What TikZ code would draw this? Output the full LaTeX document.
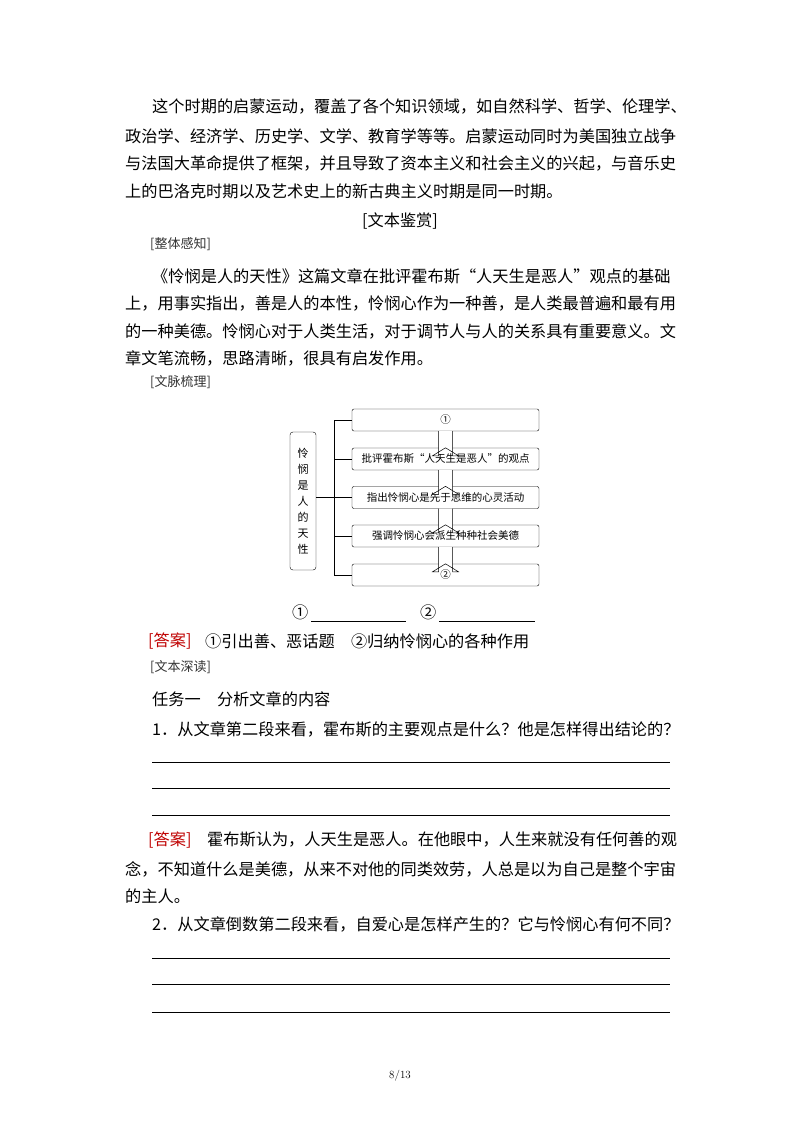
\documentclass[tikz,border=0pt]{standalone}
\usepackage{fontspec}
\newfontfamily\cjk{Noto Sans CJK SC}
\begin{document}
\begin{tikzpicture}[x=1pt,y=-1pt,
 t/.style={anchor=west,inner sep=0pt,font=\cjk\fontsize{16.2}{18}\selectfont},
 tag/.style={anchor=west,inner sep=0pt,font=\cjk\fontsize{13}{15}\selectfont,text=black!80},
 bx/.style={draw,rounded corners=2pt,minimum width=187pt,minimum height=22pt,inner sep=0pt,font=\cjk\fontsize{10.5}{12}\selectfont},
 ln/.style={line width=0.6pt},
 ha/.style={draw,fill=white,line width=0.5pt}]
\useasboundingbox (0,0) rectangle (800,1132);
\fill[white] (0,0) rectangle (800,1132);
\node[t] (p1) at (152,106) {这个时期的启蒙运动，覆盖了各个知识领域，如自然科学、哲学、伦理学、};
\node[t] (p2) at (125,136) {政治学、经济学、历史学、文学、教育学等等。启蒙运动同时为美国独立战争};
\node[t] (p3) at (125,163) {与法国大革命提供了框架，并且导致了资本主义和社会主义的兴起，与音乐史};
\node[t] (p4) at (125,191) {上的巴洛克时期以及艺术史上的新古典主义时期是同一时期。};
\node[t,anchor=center] (h1) at (400,221) {[文本鉴赏]};
\node[tag] (g1) at (150,244) {[整体感知]};
\node[t] (q1) at (152,276) {《怜悯是人的天性》这篇文章在批评霍布斯“人天生是恶人”观点的基础};
\node[t] (q2) at (125,304) {上，用事实指出，善是人的本性，怜悯心作为一种善，是人类最普遍和最有用};
\node[t] (q3) at (125,331) {的一种美德。怜悯心对于人类生活，对于调节人与人的关系具有重要意义。文};
\node[t] (q4) at (125,358) {章文笔流畅，思路清晰，很具有启发作用。};
\node[tag] (g2) at (150,382) {[文脉梳理]};
% diagram
\node[draw,rounded corners=3pt,minimum width=26pt,minimum height=138pt,inner sep=0pt,align=center,font=\cjk\fontsize{11}{16}\selectfont] (L) at (303,501) {怜\\悯\\是\\人\\的\\天\\性};
\node[bx] (b1) at (445.5,420) {①};
\node[bx] (b2) at (445.5,459) {批评霍布斯“人天生是恶人”的观点};
\node[bx] (b3) at (445.5,497.5) {指出怜悯心是先于思维的心灵活动};
\node[bx] (b4) at (445.5,536) {强调怜悯心会派生种种社会美德};
\node[bx] (b5) at (445.5,575) {②};
\coordinate (vt) at (334,420);
\coordinate (vb) at (334,575);
\coordinate (vm) at (334,497.5);
\draw[ln] (vt) -- (vb);
\draw[ln] (L.east |- vm) -- (vm);
\foreach \b in {b1,b2,b3,b4,b5} \draw[ln] (vt |- \b.west) -- (\b.west);
\foreach \a/\c in {b1/b2,b2/b3,b3/b4,b4/b5}
 \path[ha] ([xshift=-7pt]\a.south) -- ([xshift=-7pt,yshift=-8pt]\c.north) -- ([xshift=-13pt,yshift=-8pt]\c.north) -- (\c.north) -- ([xshift=13pt,yshift=-8pt]\c.north) -- ([xshift=7pt,yshift=-8pt]\c.north) -- ([xshift=7pt]\a.south);
\node[t] (k1) at (292,612) {①};
\coordinate (k1a) at (311,621); \coordinate (k1b) at (406,621);
\draw[ln] (k1a) -- (k1b);
\node[t] (k2) at (420,612) {②};
\coordinate (k2a) at (439,621); \coordinate (k2b) at (535,621);
\draw[ln] (k2a) -- (k2b);
\node[t,text=red!75!black] (a1) at (148,641) {[答案]};
\node[t] (a1t) at (205,641) {①引出善、恶话题　②归纳怜悯心的各种作用};
\node[tag] (g3) at (150,667) {[文本深读]};
\node[t] (r1) at (152,699) {任务一　分析文章的内容};
\node[t] (r2) at (152,729) {1．从文章第二段来看，霍布斯的主要观点是什么？他是怎样得出结论的？};
\foreach \y [count=\i] in {762,788,815} {\coordinate (s\i a) at (152,\y); \coordinate (s\i b) at (670,\y); \draw[ln] (s\i a) -- (s\i b);}
\node[t,text=red!75!black] (a2) at (148,840) {[答案]};
\node[t] (a2t) at (207,840) {霍布斯认为，人天生是恶人。在他眼中，人生来就没有任何善的观};
\node[t] (a3t) at (125,869) {念，不知道什么是美德，从来不对他的同类效劳，人总是以为自己是整个宇宙};
\node[t] (a4t) at (125,896) {的主人。};
\node[t] (r3) at (152,924) {2．从文章倒数第二段来看，自爱心是怎样产生的？它与怜悯心有何不同？};
\foreach \y [count=\i] in {958,984,1012} {\coordinate (u\i a) at (152,\y); \coordinate (u\i b) at (670,\y); \draw[ln] (u\i a) -- (u\i b);}
\node[font=\fontsize{11}{12}\selectfont] (pg) at (400,1076) {8/13};
\end{tikzpicture}
\end{document}
